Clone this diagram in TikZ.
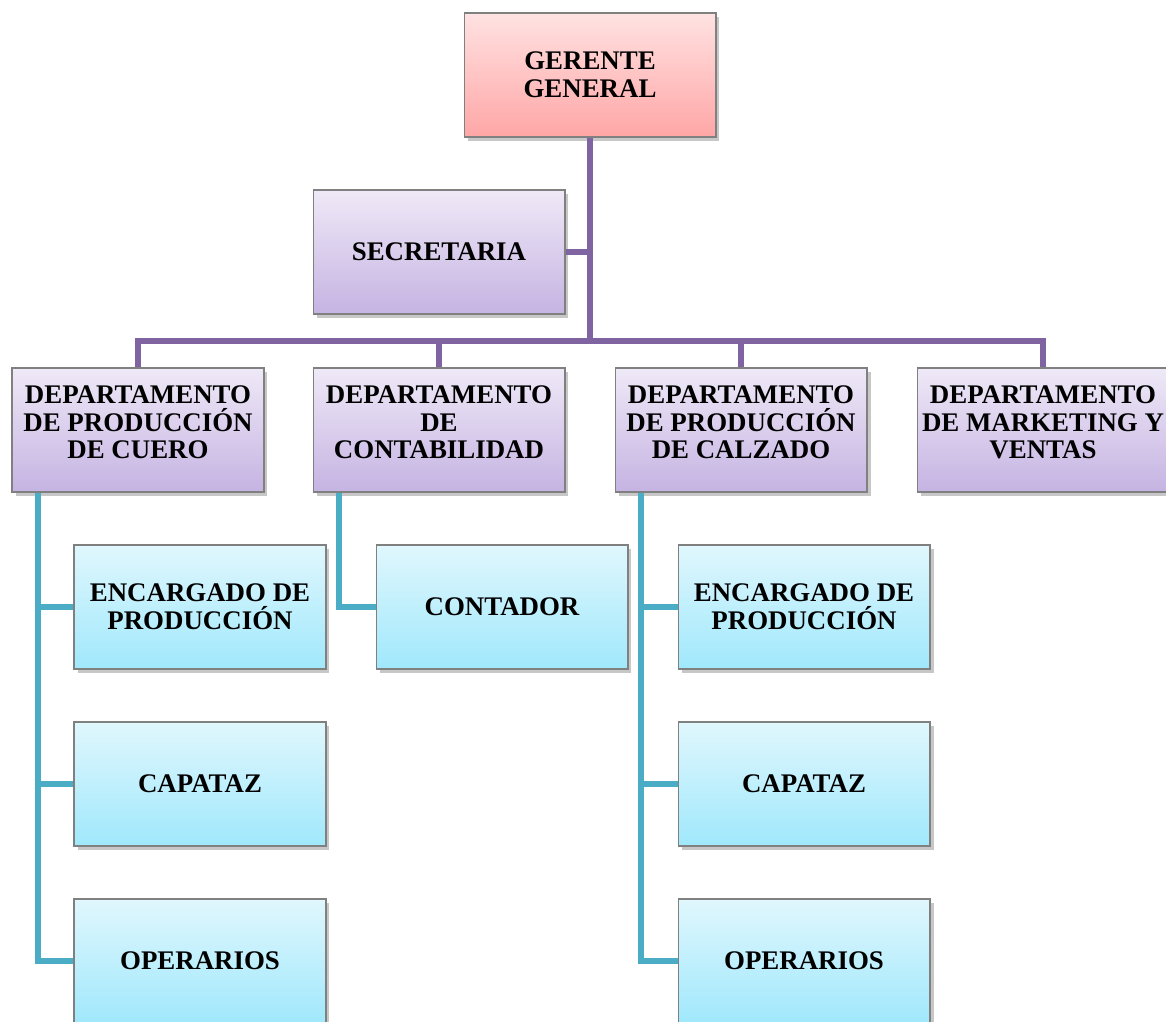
\documentclass[tikz,border=0pt]{standalone}
\usepackage{fontspec}
\setmainfont{Liberation Serif}
\usetikzlibrary{positioning,shadows}

\definecolor{linkpurple}{HTML}{8064A2}
\definecolor{linkaqua}{HTML}{4BACC6}
\definecolor{bordergray}{HTML}{808080}
\definecolor{pinktop}{HTML}{FFE2E2}
\definecolor{pinkbot}{HTML}{FFA6A6}
\definecolor{lilactop}{HTML}{EFE9F7}
\definecolor{lilacbot}{HTML}{C5B3E2}
\definecolor{skytop}{HTML}{E0F7FD}
\definecolor{skybot}{HTML}{A0E8FC}

% espacio extra bajo el texto de los departamentos
\newcommand{\lowpad}{\\[-7pt]\mbox{}}

\tikzset{
  box/.style={draw=bordergray, line width=0.6pt, minimum width=5.04cm, minimum height=2.48cm,
    inner sep=2pt, align=center, font=\fontsize{15.3}{15.8}\selectfont\bfseries,
    drop shadow={shadow xshift=2pt, shadow yshift=-2.2pt, opacity=0.22, fill=black}},
  boss/.style={box, top color=pinktop, bottom color=pinkbot},
  dept/.style={box, top color=lilactop, bottom color=lilacbot},
  staff/.style={box, top color=skytop, bottom color=skybot},
  toplink/.style={draw=linkpurple, line width=3.2pt},
  sublink/.style={draw=linkaqua, line width=3pt}
}

\begin{document}
\begin{tikzpicture}[x=0.02cm,y=-0.02cm]
\useasboundingbox (0,0) rectangle (1166,1021);

\node[boss] (ger) at (590,75) {GERENTE\\GENERAL};
\node[dept] (sec) at (439,252) {SECRETARIA};

\node[dept] (cuero) at (138,430) {DEPARTAMENTO\\DE PRODUCCIÓN\\DE CUERO\lowpad};
\node[dept] (conta) at (439,430) {DEPARTAMENTO\\DE\\CONTABILIDAD\lowpad};
\node[dept] (calzado) at (741,430) {DEPARTAMENTO\\DE PRODUCCIÓN\\DE CALZADO\lowpad};
\node[dept] (ventas) at (1043,430) {DEPARTAMENTO\\DE MARKETING Y\\VENTAS\lowpad};

\node[staff] (enc1) at (200,607) {ENCARGADO DE\\PRODUCCIÓN};
\node[staff] (cap1) at (200,784) {CAPATAZ};
\node[staff] (ope1) at (200,961) {OPERARIOS};

\node[staff] (cont) at (502,607) {CONTADOR};

\node[staff] (enc2) at (804,607) {ENCARGADO DE\\PRODUCCIÓN};
\node[staff] (cap2) at (804,784) {CAPATAZ};
\node[staff] (ope2) at (804,961) {OPERARIOS};

% lineas de mando
\coordinate (bus) at (590,341);
\draw[toplink] (ger.south) -- (bus);
\draw[toplink] (sec.east) -- (sec.east -| bus);
\draw[toplink] (cuero.north) -- (cuero.north |- bus) -- (ventas.north |- bus) -- (ventas.north);
\draw[toplink] (conta.north) -- (conta.north |- bus);
\draw[toplink] (calzado.north) -- (calzado.north |- bus);

\coordinate (c1) at ([xshift=-2cm]cuero.south);
\coordinate (c2) at ([xshift=-2cm]conta.south);
\coordinate (c3) at ([xshift=-2cm]calzado.south);
\draw[sublink] (c1) |- (ope1.west);
\draw[sublink] (enc1.west) -- (enc1.west -| c1);
\draw[sublink] (cap1.west) -- (cap1.west -| c1);
\draw[sublink] (c2) |- (cont.west);
\draw[sublink] (c3) |- (ope2.west);
\draw[sublink] (enc2.west) -- (enc2.west -| c3);
\draw[sublink] (cap2.west) -- (cap2.west -| c3);
\end{tikzpicture}
\end{document}
